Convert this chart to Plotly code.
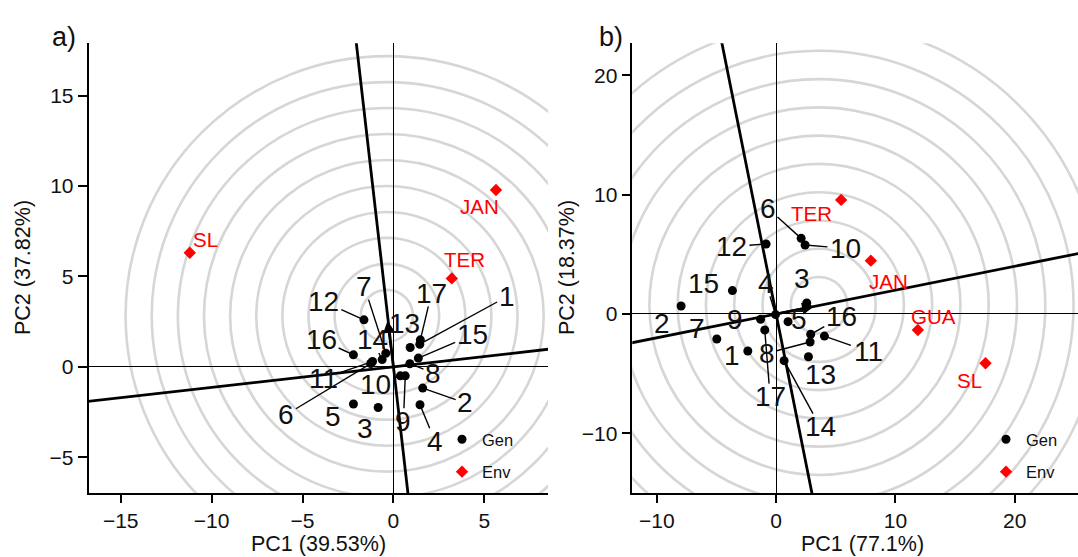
import plotly.graph_objects as go
import numpy as np

W, H = 1078, 557
FONT = "Liberation Sans, Arial, sans-serif"

# ---------------- data ----------------
gen_names = [str(i) for i in range(1, 18)]

# panel a) genotypes (PC1, PC2)
gen_pc1_a = [1.45, 1.61, -0.84, 1.46, -2.20, -1.25, -0.42, 0.90, 0.65, 0.38, -1.15, -1.62, 0.92, -0.62, 1.37, -2.20, 1.48]
gen_pc2_a = [1.25, -1.18, -2.25, -2.10, -2.06, 0.18, 0.75, 0.17, -0.50, -0.50, 0.29, 2.60, 1.07, 0.40, 0.48, 0.66, 1.49]
env_names_a = ["SL", "JAN", "TER"]
env_pc1_a = [-11.2, 5.64, 3.21]
env_pc2_a = [6.31, 9.78, 4.89]

# panel b) genotypes
gen_pc1_b = [-2.37, -7.96, 2.57, -0.05, 1.00, 2.10, -4.97, 2.85, -1.30, 2.43, 4.05, -0.84, 2.71, 0.67, -3.66, 2.90, -0.95]
gen_pc2_b = [-3.10, 0.67, 0.92, -0.05, -0.64, 6.34, -2.10, -2.35, -0.45, 5.78, -1.85, 5.87, -3.58, -3.91, 1.96, -1.70, -1.34]
env_names_b = ["TER", "JAN", "GUA", "SL"]
env_pc1_b = [5.45, 7.94, 11.88, 17.55]
env_pc2_b = [9.56, 4.47, -1.34, -4.13]

# average environment point (circle centre) and axis slopes
avg_env_a = (-0.36, 2.82)
avg_env_b = (3.60, 0.73)
slope_h_a, slope_v_a = 0.114, -8.77
slope_h_b, slope_v_b = 0.20, -5.0
ring_step_a, ring_step_b = 1.437, 2.37
n_rings = 10

axis_titles = {"a_x": "PC1 (39.53%)", "a_y": "PC2 (37.82%)",
               "b_x": "PC1 (77.1%)", "b_y": "PC2 (18.37%)"}
ticks_a_x = [-15, -10, -5, 0, 5]
ticks_a_y = [-5, 0, 5, 10, 15]
ticks_b_x = [-10, 0, 10, 20]
ticks_b_y = [-10, 0, 10, 20]

# ---------------- label placement (text positions) ----------------
lab_x_a = [6.24, 3.96, -1.56, 2.29, -3.34, -5.90, -1.60, 2.19, 0.55, -0.97, -3.83, -3.83, 0.61, -1.17, 4.36, -3.98, 2.09]
lab_y_a = [3.88, -2.00, -3.39, -4.13, -2.75, -2.65, 4.44, -0.35, -3.02, -0.99, -0.63, 3.61, 2.41, 1.49, 1.77, 1.49, 4.07]
lead_a = [1, 1, 0, 1, 0, 1, 1, 1, 1, 1, 1, 1, 0, 1, 1, 1, 1]
env_lab_x_a = [-10.34, 4.76, 3.93]
env_lab_y_a = [7.06, 8.86, 5.91]

lab_x_b = [-3.71, -9.58, 2.20, -0.84, 1.95, -0.70, -6.65, -0.78, -3.44, 5.78, 7.74, -3.71, 3.69, 3.69, -6.09, 5.51, -0.50]
lab_y_b = [-3.44, -0.78, 2.99, 2.57, -0.50, 8.86, -1.20, -3.29, -0.50, 5.51, -3.16, 5.64, -5.11, -9.45, 2.57, -0.22, -6.93]
lead_b = [0, 0, 0, 1, 0, 1, 0, 1, 0, 1, 1, 1, 0, 1, 0, 1, 1]
env_lab_x_b = [2.99, 9.41, 13.19, 16.20]
env_lab_y_b = [8.44, 2.71, -0.22, -5.59]

# ---------------- layout geometry ----------------
plot_top, plot_bot = 43.3, 493.3
a_left, a_right = 88.5, 548.0
b_left, b_right = 632.3, 1078.0
range_a_x, range_a_y = [-16.77, 8.5], [-7.0, 17.9]
range_b_x, range_b_y = [-12.05, 25.3], [-15.03, 22.69]

GEN_FS, ENV_FS, TICK_FS, TITLE_FS, LEG_FS = 28, 20.5, 21, 21.5, 16.5

fig = go.Figure()


def leaders(px, py, lx, ly, flags, ppu_x, ppu_y):
    xs, ys = [], []
    for i in range(len(px)):
        if not flags[i]:
            continue
        dx = (px[i] - lx[i]) * ppu_x
        dy = (py[i] - ly[i]) * ppu_y
        hw = len(gen_names[i]) * 0.556 * GEN_FS / 2 + 2
        hh = 0.72 * GEN_FS / 2 + 3
        t = min(hw / abs(dx) if dx else 1e9, hh / abs(dy) if dy else 1e9)
        if t >= 1:
            continue
        xs += [lx[i] + t * dx / ppu_x, px[i], None]
        ys += [ly[i] + t * dy / ppu_y, py[i], None]
    return xs, ys


def panel(xa, ya, gx, gy, ex, ey, enames, lx, ly, flags, elx, ely,
          avg, sh, sv, step, rng_x, rng_y, dom_px, legend):
    ppu_x = (dom_px[1] - dom_px[0]) / (rng_x[1] - rng_x[0])
    ppu_y = (plot_bot - plot_top) / (rng_y[1] - rng_y[0])
    # concentric circles
    for k in range(1, n_rings + 1):
        r = k * step
        fig.add_shape(type="circle", xref=xa, yref=ya, x0=avg[0] - r, x1=avg[0] + r,
                      y0=avg[1] - r, y1=avg[1] + r, layer="below",
                      line=dict(color="rgb(214,214,214)", width=2.6))
    # thick axes through origin
    big = 200
    fig.add_trace(go.Scatter(x=[-big, big], y=[-big * sh, big * sh], mode="lines",
                             line=dict(color="black", width=2.8), xaxis=xa, yaxis=ya,
                             showlegend=False, hoverinfo="skip"))
    fig.add_trace(go.Scatter(x=[-big / sv, big / sv], y=[-big, big], mode="lines",
                             line=dict(color="black", width=2.8), xaxis=xa, yaxis=ya,
                             showlegend=False, hoverinfo="skip"))
    # leader lines
    lxs, lys = leaders(gx, gy, lx, ly, flags, ppu_x, ppu_y)
    fig.add_trace(go.Scatter(x=lxs, y=lys, mode="lines", line=dict(color="black", width=1.4),
                             xaxis=xa, yaxis=ya, showlegend=False, hoverinfo="skip"))
    # genotypes
    fig.add_trace(go.Scatter(x=gx, y=gy, mode="markers", name="Gen", legend=legend, legendgroup="g",
                             marker=dict(color="black", size=9, symbol="circle"),
                             xaxis=xa, yaxis=ya, cliponaxis=True))
    # environments
    fig.add_trace(go.Scatter(x=ex, y=ey, mode="markers", name="Env", legend=legend, legendgroup="e",
                             marker=dict(color="red", size=9.5, symbol="diamond"),
                             xaxis=xa, yaxis=ya))
    # average environment
    fig.add_trace(go.Scatter(x=[avg[0]], y=[avg[1]], mode="markers", showlegend=False,
                             marker=dict(color="rgba(0,0,0,0)", size=10, symbol="circle-open",
                                         line=dict(color="black", width=1)),
                             xaxis=xa, yaxis=ya, hoverinfo="skip"))
    fig.add_annotation(x=avg[0], y=avg[1], ax=0, ay=0, xref=xa, yref=ya,
                       axref=xa, ayref=ya, text="", showarrow=True, arrowhead=2,
                       arrowsize=1.1, arrowwidth=2.2, arrowcolor="black", standoff=5)
    for i, n in enumerate(gen_names):
        fig.add_annotation(x=lx[i], y=ly[i], xref=xa, yref=ya, text=n, showarrow=False,
                           xanchor="center", yanchor="middle",
                           font=dict(size=GEN_FS, color="#111", family=FONT))
    for i, n in enumerate(enames):
        fig.add_annotation(x=elx[i], y=ely[i], xref=xa, yref=ya, text=n, showarrow=False,
                           xanchor="center", yanchor="middle",
                           font=dict(size=ENV_FS, color="red", family=FONT))


panel("x", "y", gen_pc1_a, gen_pc2_a, env_pc1_a, env_pc2_a, env_names_a,
      lab_x_a, lab_y_a, lead_a, env_lab_x_a, env_lab_y_a,
      avg_env_a, slope_h_a, slope_v_a, ring_step_a, range_a_x, range_a_y,
      (a_left, a_right), "legend")
panel("x2", "y2", gen_pc1_b, gen_pc2_b, env_pc1_b, env_pc2_b, env_names_b,
      lab_x_b, lab_y_b, lead_b, env_lab_x_b, env_lab_y_b,
      avg_env_b, slope_h_b, slope_v_b, ring_step_b, range_b_x, range_b_y,
      (b_left, b_right), "legend2")

ydom = [1 - plot_bot / H, 1 - plot_top / H]
ax_common = dict(showgrid=False, zeroline=True, zerolinecolor="black", zerolinewidth=1.3,
                 showline=True, linecolor="black", linewidth=1.5, mirror=False,
                 ticks="outside", tickwidth=1.5, tickcolor="black",
                 tickfont=dict(size=TICK_FS, color="#111", family=FONT), fixedrange=True)

fig.update_layout(
    width=W, height=H, margin=dict(l=0, r=0, t=0, b=0),
    paper_bgcolor="white", plot_bgcolor="white",
    font=dict(family=FONT, color="#111"),
    xaxis=dict(domain=[a_left / W, a_right / W], range=range_a_x, tickvals=ticks_a_x, anchor="y",
               ticklen=8, **ax_common),
    yaxis=dict(domain=ydom, range=range_a_y, tickvals=ticks_a_y, anchor="x", ticklen=9, **ax_common),
    xaxis2=dict(domain=[b_left / W, b_right / W], range=range_b_x, tickvals=ticks_b_x, anchor="y2",
                ticklen=8, **ax_common),
    yaxis2=dict(domain=ydom, range=range_b_y, tickvals=ticks_b_y, anchor="x2", ticklen=9, **ax_common),
    legend=dict(x=442 / W, xanchor="left", y=1 - 422 / H, yanchor="top",
                font=dict(size=LEG_FS, family=FONT, color="#111"),
                bgcolor="rgba(0,0,0,0)", tracegroupgap=8),
    legend2=dict(x=986 / W, xanchor="left", y=1 - 422 / H, yanchor="top",
                 font=dict(size=LEG_FS, family=FONT, color="#111"),
                 bgcolor="rgba(0,0,0,0)", tracegroupgap=8),
)


def paper_text(px, py, text, size, angle=0):
    fig.add_annotation(x=px / W, y=1 - py / H, xref="paper", yref="paper", text=text,
                       xanchor="center", yanchor="middle", textangle=angle, showarrow=False,
                       font=dict(size=size, family=FONT, color="#111"))


paper_text(318, 544, axis_titles["a_x"], TITLE_FS)
paper_text(862, 544, axis_titles["b_x"], TITLE_FS)
paper_text(23, 268, axis_titles["a_y"], TITLE_FS, -90)
paper_text(567, 268, axis_titles["b_y"], TITLE_FS, -90)
paper_text(64, 37, "a)", 27)
paper_text(611, 37, "b)", 27)

fig.write_html("out.html")
